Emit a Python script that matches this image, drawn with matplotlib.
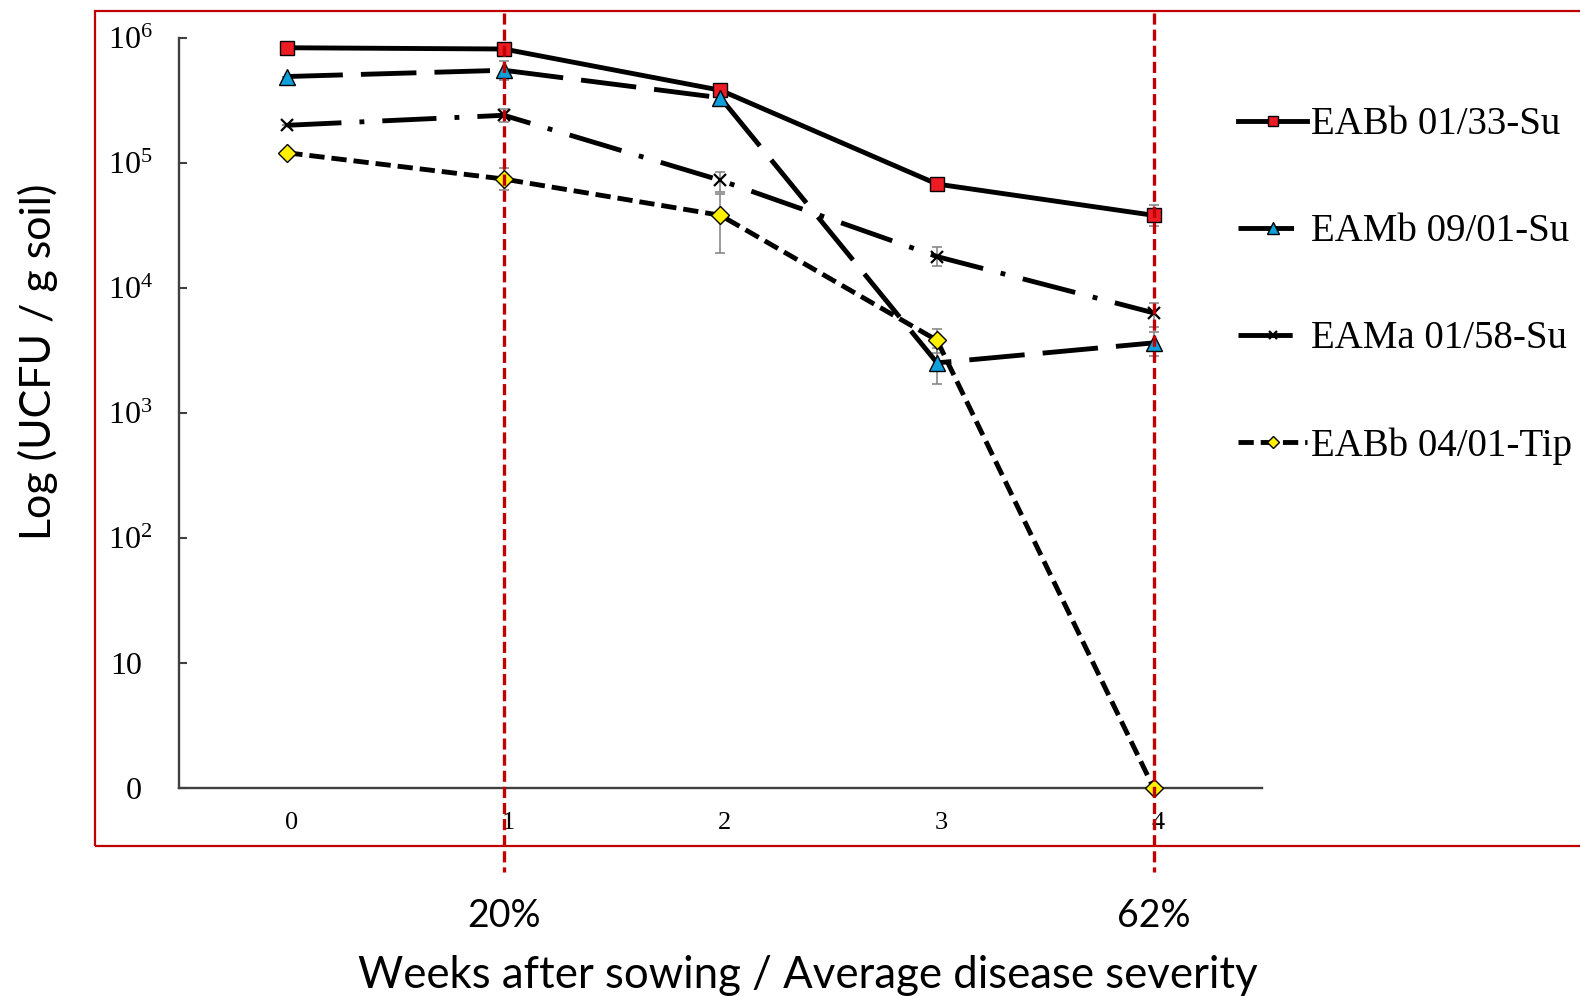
import matplotlib
matplotlib.use('Agg')
import matplotlib.pyplot as plt
import matplotlib.transforms as mtransforms
from matplotlib.patches import Rectangle
from matplotlib.ticker import FixedLocator, FixedFormatter

plt.rcParams['lines.scale_dashes'] = False
plt.rcParams['mathtext.fontset'] = 'custom'
plt.rcParams['mathtext.rm'] = 'Liberation Serif'

# weeks after sowing and disease severity marks
weeks = [0, 1, 2, 3, 4]
severity_weeks = [1, 4]
severity_labels = ['20%', '62%']

# log10(UCFU / g soil)
eabb_33 = [5.92, 5.91, 5.58, 4.83, 4.58]
eabb_33_lo = [0.0, 0.02, 0.03, 0.03, 0.085]
eabb_33_hi = [0.0, 0.02, 0.03, 0.03, 0.085]

eamb_01 = [5.69, 5.74, 5.52, 3.40, 3.56]
eamb_01_lo = [0.0, 0.076, 0.03, 0.17, 0.107]
eamb_01_hi = [0.0, 0.076, 0.03, 0.12, 0.09]

eama_58 = [5.30, 5.38, 4.86, 4.25, 3.80]
eama_58_lo = [0.0, 0.053, 0.09, 0.075, 0.11]
eama_58_hi = [0.0, 0.053, 0.066, 0.075, 0.08]

eabb_tip = [5.08, 4.87, 4.58, 3.58, 0.0]
eabb_tip_lo = [0.0, 0.09, 0.30, 0.10, 0.0]
eabb_tip_hi = [0.0, 0.09, 0.17, 0.09, 0.0]

series_names = ['EABb 01/33-Su', 'EAMb 09/01-Su', 'EAMa 01/58-Su', 'EABb 04/01-Tip']

ytick_vals = [0, 1, 2, 3, 4, 5, 6]
ytick_labels = ['0', '10', r'$\mathregular{10^{2}}$', r'$\mathregular{10^{3}}$',
                r'$\mathregular{10^{4}}$', r'$\mathregular{10^{5}}$', r'$\mathregular{10^{6}}$']

RED = '#C00000'
sans = ['Lato', 'DejaVu Sans']
serif = ['Liberation Serif', 'DejaVu Serif']

fig = plt.figure(figsize=(15.8, 9.96), dpi=100)
ax = fig.add_axes([0.1133, 0.2088, 0.6854, 0.7533])

styles = [
    dict(values=eabb_33, lo=eabb_33_lo, hi=eabb_33_hi, marker='s', ms=9.4,
         mfc='#ED1C24', dashes=None),
    dict(values=eamb_01, lo=eamb_01_lo, hi=eamb_01_hi, marker='^', ms=12,
         mfc='#0FA0DC', dashes=(40, 13)),
    dict(values=eama_58, lo=eama_58_lo, hi=eama_58_hi, marker='x', ms=9,
         mfc='black', dashes=(39, 13, 3.5, 13)),
    dict(values=eabb_tip, lo=eabb_tip_lo, hi=eabb_tip_hi, marker='D', ms=8.7,
         mfc='#FFEF00', dashes=(11, 5)),
]

for name, st in zip(series_names, styles):
    ax.errorbar(weeks, st['values'], yerr=[st['lo'], st['hi']], fmt='none',
                ecolor='#808080', elinewidth=1.1, capsize=3.6, capthick=1.1,
                zorder=2)
    line, = ax.plot(weeks, st['values'], color='black', lw=3.5,
                    marker=st['marker'], ms=st['ms'], mfc=st['mfc'],
                    mec='black', mew=1.0 if st['marker'] != 'x' else 1.6,
                    label=name, zorder=3, clip_on=False)
    if st['dashes'] is not None:
        line.set_dashes(st['dashes'])

ax.set_xlim(-0.5, 4.5)
ax.set_ylim(0, 6)

for s in ['top', 'right']:
    ax.spines[s].set_visible(False)
for s in ['left', 'bottom']:
    ax.spines[s].set_color('#404040')
    ax.spines[s].set_linewidth(1.7)

ax.yaxis.set_major_locator(FixedLocator(ytick_vals))
ax.yaxis.set_major_formatter(FixedFormatter(ytick_labels))
ax.tick_params(axis='y', direction='in', length=6, width=1.5, color='#404040',
               pad=19, labelsize=23)
# plain labels sit where the base "10" of the powers sits
yticks = ax.yaxis.get_major_ticks()
yticks[0].set_pad(26.6)
yticks[1].set_pad(26.6)
for lab in ax.get_yticklabels():
    lab.set_fontfamily(serif)

ax.set_xticks(weeks)
ax.set_xticklabels([str(w) for w in weeks])
ax.tick_params(axis='x', length=0, pad=17, labelsize=19)
shift = mtransforms.ScaledTranslation(4 / 100, 0, fig.dpi_scale_trans)
for lab in ax.get_xticklabels():
    lab.set_fontfamily(serif)
    lab.set_transform(lab.get_transform() + shift)

# red frame around the plot area
fig.patches.append(Rectangle((95 / 1580, 1 - 846 / 996), 1.0, (846 - 11.5) / 996,
                             transform=fig.transFigure, fill=False,
                             edgecolor=RED, lw=1.6, zorder=0))

# disease severity markers
blend = mtransforms.blended_transform_factory(ax.transData, fig.transFigure)
for wk, lab in zip(severity_weeks, severity_labels):
    vl, = ax.plot([wk, wk], [1 - 12.7 / 996, 1 - 872 / 996], transform=blend,
                  color=RED, lw=2.4, clip_on=False, zorder=4)
    vl.set_dashes((8, 3.6))
    ax.text(wk, 1 - 926.7 / 996, lab, transform=blend, ha='center',
            va='baseline', fontsize=27, family=sans)

fig.text(808 / 1580, 1 - 988 / 996, 'Weeks after sowing / Average disease severity',
         ha='center', va='baseline', fontsize=31.5, family=sans)
fig.text(38 / 1580, 1 - 362 / 996, 'Log (UCFU / g soil)', rotation=90,
         ha='center', va='center', fontsize=31, family=sans)

leg = ax.legend(loc='upper left', bbox_to_anchor=(1219 / 1580, 1 - 87 / 996),
                bbox_transform=fig.transFigure, frameon=False, borderpad=0,
                handlelength=1.77, handletextpad=0.1, labelspacing=1.8,
                markerscale=0.7, prop={'family': serif, 'size': 28})

fig.savefig('out.png', dpi=100)
